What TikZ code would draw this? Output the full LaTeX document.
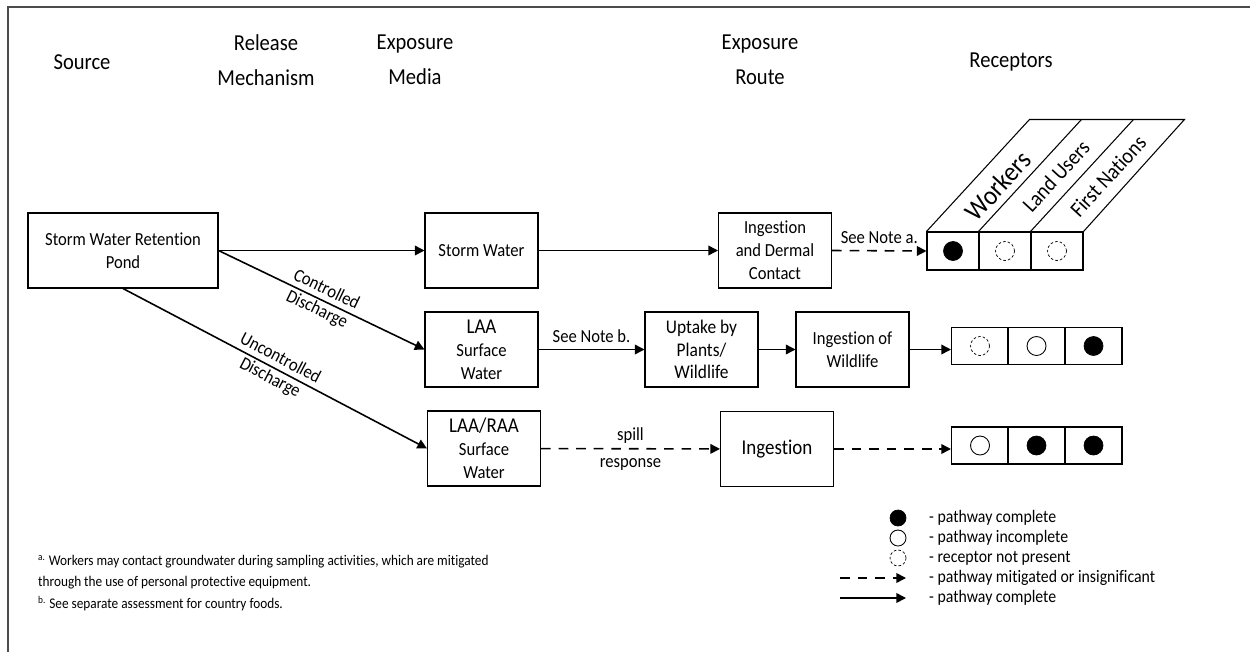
\documentclass[tikz,border=0pt]{standalone}
\usepackage{fontspec}
\setmainfont{Carlito}[FakeStretch=0.9,Ligatures=CommonOff]
\usetikzlibrary{arrows.meta}

\begin{document}
\begin{tikzpicture}[x=0.02cm,y=-0.02cm,
  head/.style={align=center,font=\fontsize{13}{20}\selectfont},
  box/.style={draw,line width=0.6pt,minimum width=2.26cm,minimum height=1.5cm,
    align=center,inner sep=1pt,font=\fontsize{10.5}{13}\selectfont},
  cell/.style={draw,line width=0.6pt,minimum width=1.14cm,minimum height=0.74cm,inner sep=0pt},
  topcell/.style={cell,minimum width=1.04cm,minimum height=0.76cm},
  fullpath/.style={circle,draw,fill=black,minimum size=0.38cm,inner sep=0pt},
  partpath/.style={circle,draw,line width=0.5pt,minimum size=0.38cm,inner sep=0pt},
  noreceptor/.style={circle,draw,line width=0.4pt,dash pattern=on 1.5pt off 1.2pt,
    minimum size=0.38cm,inner sep=0pt},
  flow/.style={-{Triangle[length=5.5pt,width=5.5pt]},line width=0.9pt},
  weak/.style={flow,dash pattern=on 5.5pt off 4.5pt},
  lbl/.style={font=\fontsize{10.5}{12.5}\selectfont},
  key/.style={anchor=west,font=\fontsize{10}{12}\selectfont}
]
  \useasboundingbox (0,0) rectangle (1250,652);
  \draw[line width=1pt,black!70] (8,652) |- (1250,7);

  % column headings
  \node[head] (hsrc) at (82,62) {Source};
  \node[head] (hrel) at (266,60) {Release\\Mechanism};
  \node[head] (hmed) at (415,60) {Exposure\\Media};
  \node[head] (hrte) at (760,60) {Exposure\\Route};
  \node[head] (hrec) at (1011,62) {Receptors};

  % pathway boxes
  \node[box,minimum width=3.8cm] (pond) at (123,250.5) {Storm Water Retention\\Pond};
  \node[box] (sw) at (481.5,250.5) {Storm Water};
  \node[box] (idc) at (775,250.5) {Ingestion\\and Dermal\\Contact};
  \node[box] (laa) at (481.5,349.5)
    {{\fontsize{12}{14}\selectfont LAA}\\Surface\\Water};
  \node[box,font=\fontsize{11}{13}\selectfont] (upt) at (701.5,349.5)
    {Uptake by\\Plants/\\Wildlife};
  \node[box] (iow) at (852.5,349.5) {Ingestion of\\Wildlife};
  \node[box] (lrs) at (484,448.5)
    {{\fontsize{12}{14}\selectfont LAA/RAA}\\Surface\\Water};
  \node[box,font=\fontsize{12}{14}\selectfont] (ing) at (777,449) {Ingestion};

  % receptor table
  \node[topcell] (c11) at (953,251) {};
  \node[topcell] (c12) at (1005,251) {};
  \node[topcell] (c13) at (1057,251) {};
  \node[cell] (c21) at (980,346) {};
  \node[cell] (c22) at (1036.5,346) {};
  \node[cell] (c23) at (1093.5,346) {};
  \node[cell] (c31) at (980,445.5) {};
  \node[cell] (c32) at (1036.5,445.5) {};
  \node[cell] (c33) at (1093.5,445.5) {};
  \draw[line width=0.6pt] (c11.north west) -- ++(103,-112) -- ++(155,0) -- (c13.north east);
  \draw[line width=0.6pt] (c12.north west) -- ++(103,-112);
  \draw[line width=0.6pt] (c13.north west) -- ++(103,-112);
  \node[rotate=47.4,font=\fontsize{15.5}{15.5}\selectfont] (rw) at (998,186) {Workers};
  \node[rotate=47.4,font=\fontsize{12.5}{12.5}\selectfont] (rl) at (1056,176) {Land Users};
  \node[rotate=47.4,font=\fontsize{12.5}{12.5}\selectfont] (rf) at (1108,176) {First Nations};

  \node[fullpath] (m11) at (c11) {};
  \node[noreceptor] (m12) at (c12) {};
  \node[noreceptor] (m13) at (c13) {};
  \node[noreceptor] (m21) at (c21) {};
  \node[partpath] (m22) at (c22) {};
  \node[fullpath] (m23) at (c23) {};
  \node[partpath] (m31) at (c31) {};
  \node[fullpath] (m32) at (c32) {};
  \node[fullpath] (m33) at (c33) {};

  % pathways
  \draw[flow] (pond.east) -- (sw.west);
  \draw[flow] (pond.east) -- (laa.west)
    node[midway,sloped,lbl,align=center] {Controlled\\Discharge};
  \draw[flow] (pond.south) -- (lrs.west)
    node[midway,sloped,lbl,align=center] {Uncontrolled\\Discharge};
  \draw[flow] (sw) -- (idc);
  \draw[weak] (idc.east) -- (c11.west) node[midway,above,lbl] {See Note a.};
  \draw[flow] (laa) -- (upt) node[midway,above,lbl] {See Note b.};
  \draw[flow] (upt) -- (iow);
  \draw[flow] (iow.east) -- (iow.east -| c21.west);
  \draw[weak] (lrs) -- (ing)
    node[midway,lbl,align=center] {spill\\[3pt]response};
  \draw[weak] (ing.east) -- (ing.east -| c31.west);

  % legend
  \node[fullpath,minimum size=0.32cm] (kf) at (898,518) {};
  \node[partpath,minimum size=0.32cm] (kp) at (898,538) {};
  \node[noreceptor,minimum size=0.32cm] (kn) at (898,558) {};
  \coordinate (kd0) at (840,578);
  \coordinate (kd1) at (906,578);
  \coordinate (ks0) at (840,598);
  \coordinate (ks1) at (906,598);
  \draw[weak] (kd0) -- (kd1);
  \draw[flow] (ks0) -- (ks1);
  \node[key] (tf) at (923,518) {- pathway complete};
  \node[key] (tp) at (923,538) {- pathway incomplete};
  \node[key] (tn) at (923,558) {- receptor not present};
  \node[key] (td) at (923,578) {- pathway mitigated or insignificant};
  \node[key] (ts) at (923,598) {- pathway complete};

  % notes
  \node[anchor=west,align=left,font=\fontsize{8.4}{12}\selectfont] (notes) at (32,583)
    {\textsuperscript{a.} Workers may contact groundwater during sampling activities, which are mitigated\\
     through the use of personal protective equipment.\\
     \textsuperscript{b.} See separate assessment for country foods.};
\end{tikzpicture}
\end{document}
